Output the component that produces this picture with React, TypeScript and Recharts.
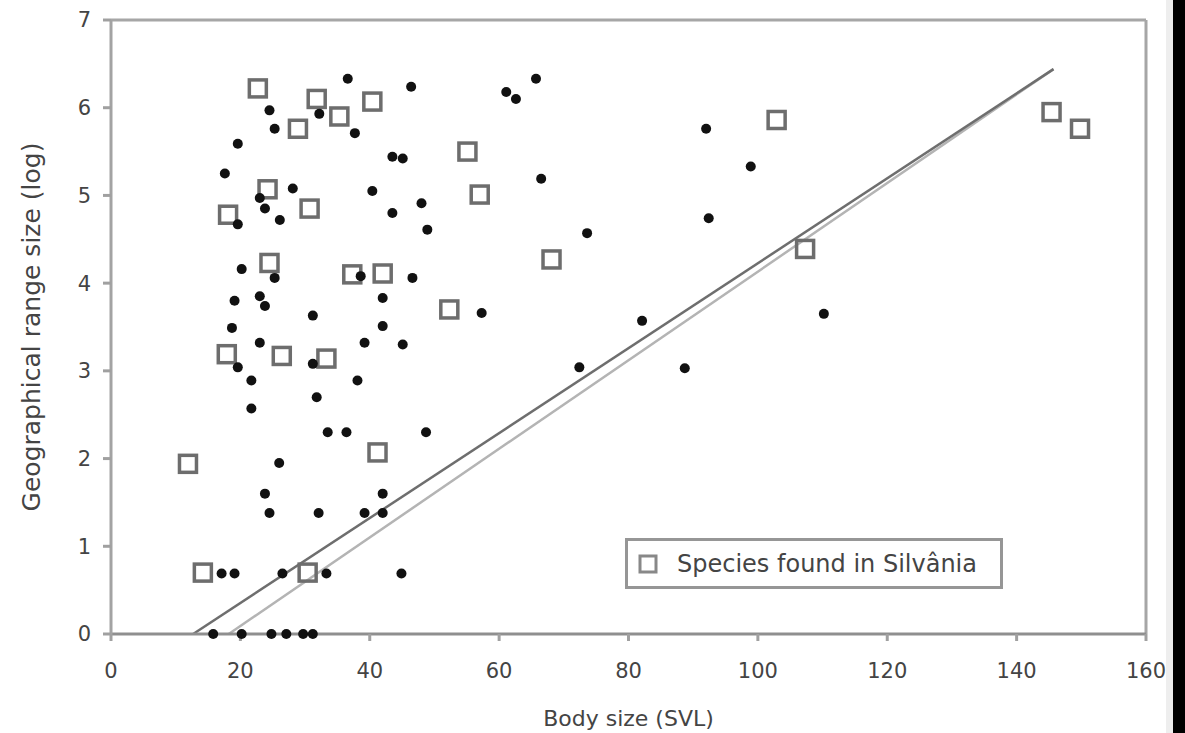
import React from 'react';
import { ScatterChart, Scatter, XAxis, YAxis, ReferenceLine, Legend } from 'recharts';

// Species found in Silvânia (open squares)
const silvaniaX = [22.7, 31.8, 40.4, 35.3, 28.9, 55.1, 57.0, 24.2, 18.1, 30.7, 24.5, 37.3, 42.0, 52.3, 17.9, 26.4, 33.3, 11.9, 41.2, 14.2, 30.4, 102.9, 68.1, 107.3, 145.4, 149.8];
const silvaniaY = [6.22, 6.10, 6.07, 5.90, 5.76, 5.50, 5.01, 5.07, 4.78, 4.85, 4.23, 4.10, 4.11, 3.70, 3.19, 3.17, 3.14, 1.94, 2.07, 0.70, 0.70, 5.86, 4.27, 4.39, 5.95, 5.76];

// Other species (filled markers)
const otherX = [36.6, 46.4, 24.5, 32.2, 25.3, 37.7, 19.6, 43.5, 45.1, 17.6, 28.1, 40.4, 23.0, 23.8, 48.0, 43.5, 26.1, 19.6, 48.9, 20.2, 25.3, 46.6, 19.1, 23.0, 23.8, 42.0, 31.2, 57.3, 18.7, 42.0, 23.0, 39.2, 45.1, 19.6, 21.7, 38.1, 31.8, 21.7, 33.5, 36.4, 48.7, 26.0, 23.8, 42.0, 24.5, 32.1, 39.2, 42.0, 17.1, 19.1, 26.5, 33.3, 44.9, 15.8, 20.2, 24.8, 27.1, 29.7, 31.2, 65.7, 61.1, 62.6, 92.0, 98.9, 66.5, 73.6, 92.4, 82.1, 110.2, 72.4, 88.7, 31.2, 38.6];
const otherY = [6.33, 6.24, 5.97, 5.93, 5.76, 5.71, 5.59, 5.44, 5.42, 5.25, 5.08, 5.05, 4.97, 4.85, 4.91, 4.80, 4.72, 4.67, 4.61, 4.16, 4.06, 4.06, 3.80, 3.85, 3.74, 3.83, 3.63, 3.66, 3.49, 3.51, 3.32, 3.32, 3.30, 3.04, 2.89, 2.89, 2.70, 2.57, 2.30, 2.30, 2.30, 1.95, 1.60, 1.60, 1.38, 1.38, 1.38, 1.38, 0.69, 0.69, 0.69, 0.69, 0.69, 0, 0, 0, 0, 0, 0, 6.33, 6.18, 6.10, 5.76, 5.33, 5.19, 4.57, 4.74, 3.57, 3.65, 3.04, 3.03, 3.08, 4.08];

// Fitted lines (end points)
const fitAllX = [12.7, 145.7];
const fitAllY = [0, 6.44];
const fitOtherX = [18.2, 145.7];
const fitOtherY = [0, 6.44];

const xTicks = [0, 20, 40, 60, 80, 100, 120, 140, 160];
const yTicks = [0, 1, 2, 3, 4, 5, 6, 7];

const silvania = silvaniaX.map((x, i) => ({ x, y: silvaniaY[i] }));
const others = otherX.map((x, i) => ({ x, y: otherY[i] }));
const segAll = fitAllX.map((x, i) => ({ x, y: fitAllY[i] }));
const segOther = fitOtherX.map((x, i) => ({ x, y: fitOtherY[i] }));

const FONT = '"DejaVu Sans", Verdana, sans-serif';

const OpenSquare = (props: any) => {
  const { cx, cy } = props;
  return <rect x={cx - 8.5} y={cy - 8.5} width={17} height={17} fill="none" stroke="#6d6d6d" strokeWidth={3.5} />;
};

const Dot = (props: any) => {
  const { cx, cy } = props;
  return <circle cx={cx} cy={cy} r={5} fill="#111" />;
};

const LegendBox = () => (
  <div
    style={{
      width: 378,
      height: 51,
      boxSizing: 'border-box',
      border: '3px solid #969696',
      background: '#fff',
      display: 'flex',
      alignItems: 'center',
      fontFamily: FONT,
      fontSize: 24,
      color: '#444',
      whiteSpace: 'nowrap',
    }}
  >
    <svg width={20} height={20} style={{ marginLeft: 10, marginRight: 19 }}>
      <rect x={2} y={2} width={16} height={16} fill="none" stroke="#888" strokeWidth={3} />
    </svg>
    <span>Species found in Silvânia</span>
  </div>
);

const YTitle = (props: any) => {
  const vb = props.viewBox || { x: 0, y: 20, width: 111, height: 614 };
  const cx = 31;
  const cy = vb.y + vb.height / 2;
  return (
    <text
      x={cx}
      y={cy}
      transform={`rotate(-90, ${cx}, ${cy})`}
      textAnchor="middle"
      dominantBaseline="central"
      fontFamily={FONT}
      fontSize={25}
      fill="#444"
    >
      Geographical range size (log)
    </text>
  );
};

export default function App() {
  return (
    <div style={{ position: 'absolute', left: 0, top: 0, width: 1185, height: 733, background: '#fff', overflow: 'hidden' }}>
      <ScatterChart width={1185} height={733} margin={{ top: 20, right: 39, bottom: 0, left: 0 }}>
        <XAxis
          type="number"
          dataKey="x"
          domain={[0, 160]}
          ticks={xTicks}
          height={99}
          stroke="#8f8f8f"
          strokeWidth={3}
          tickSize={7}
          tickMargin={22}
          tick={{ fontFamily: FONT, fontSize: 21, fill: '#444' }}
          tickLine={{ stroke: '#a0a0a0', strokeWidth: 3 }}
          label={{ value: 'Body size (SVL)', position: 'insideBottom', offset: 7, style: { fontFamily: FONT, fontSize: 22, fill: '#444' } }}
        />
        <YAxis
          type="number"
          dataKey="y"
          domain={[0, 7]}
          ticks={yTicks}
          width={111}
          stroke="#a3a3a3"
          strokeWidth={3}
          tickSize={8}
          tickMargin={12}
          tick={{ fontFamily: FONT, fontSize: 21, fill: '#444' }}
          tickLine={{ stroke: '#a0a0a0', strokeWidth: 3 }}
          label={<YTitle />}
        />
        <ReferenceLine y={7} stroke="#a6a6a6" strokeWidth={3} />
        <ReferenceLine x={160} stroke="#a6a6a6" strokeWidth={3} />
        <ReferenceLine segment={segOther} stroke="#b4b4b4" strokeWidth={2.5} />
        <ReferenceLine segment={segAll} stroke="#6e6e6e" strokeWidth={2.5} />
        <Scatter name="Species found in Silvânia" data={silvania} shape={<OpenSquare />} isAnimationActive={false} />
        <Scatter name="Other species" data={others} shape={<Dot />} isAnimationActive={false} />
        <Legend
          layout="horizontal"
          verticalAlign="middle"
          align="center"
          content={<LegendBox />}
          wrapperStyle={{ position: 'absolute', left: 625, top: 538, width: 'auto', height: 'auto' }}
        />
      </ScatterChart>
      <div style={{ position: 'absolute', left: 1166, top: 0, width: 7, height: 733, background: '#eee' }} />
      <div style={{ position: 'absolute', left: 1173, top: 0, width: 12, height: 733, background: '#000' }} />
    </div>
  );
}
